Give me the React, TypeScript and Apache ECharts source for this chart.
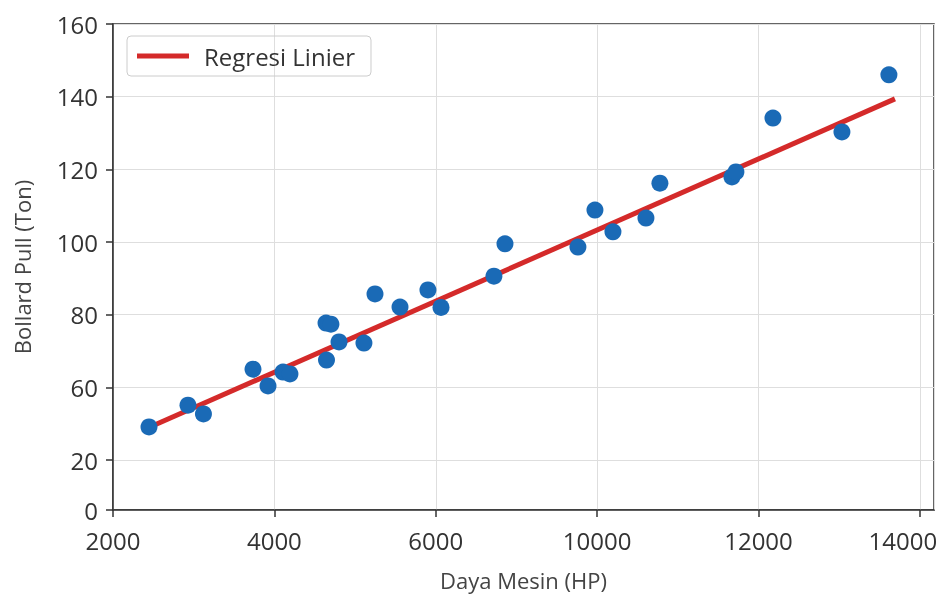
import React, { useEffect, useRef } from "react";
import * as echarts from "echarts";

// x values are in the axis' own linear coordinate (tick slots every 2000 from 2000);
// the printed tick labels of the reference are listed separately.
const xTickLabels = ["2000", "4000", "6000", "10000", "12000", "14000"];
const yTickValues = [26.25, 40, 60, 80, 100, 120, 140, 160];
const yTickLabels = ["0", "20", "60", "80", "100", "120", "140", "160"];

const dayaMesin = [
  2446, 2929, 3121, 3735, 3921, 4107, 4193, 4646, 4640, 4701, 4801, 5110, 5247,
  5557, 5903, 6065, 6721, 6858, 7762, 7973, 8196, 8605, 8778, 9671, 9720, 10179,
  11034, 11616,
];
const bollardPull = [
  49.1, 55.1, 52.7, 65.0, 60.4, 64.2, 63.7, 67.5, 77.7, 77.4, 72.5, 72.2, 85.7,
  82.1, 86.8, 82.0, 90.6, 99.5, 98.6, 108.8, 102.8, 106.6, 116.2, 117.9, 119.3,
  134.1, 130.3, 146.0,
];
const regX = [2458, 11691];
const regY = [49.1, 139.4];

const FONT = "Open Sans";

export default function App() {
  const ref = useRef<HTMLDivElement>(null);
  useEffect(() => {
    document.documentElement.style.overflow = "hidden";
    document.body.style.margin = "0";
    document.body.style.overflow = "hidden";
    const chart = echarts.init(ref.current!, null, {
      renderer: "svg",
      width: 943,
      height: 597,
    });
    chart.setOption({
      animation: false,
      textStyle: { fontFamily: FONT },
      grid: {
        left: 113,
        right: 9,
        top: 24,
        bottom: 87,
        containLabel: false,
        outerBoundsMode: "none",
        show: true,
        borderColor: "#333",
        borderWidth: 1.5,
        backgroundColor: "transparent",
      },
      legend: {
        left: 127,
        top: 36,
        data: ["Regresi Linier"],
        icon: "rect",
        itemWidth: 52,
        itemHeight: 5,
        padding: [8, 16, 8, 10],
        borderColor: "#ccc",
        borderWidth: 1,
        borderRadius: 4,
        textStyle: {
          fontFamily: FONT,
          fontSize: 24,
          color: "#333",
          padding: [0, 0, 0, 10],
        },
      },
      xAxis: {
        type: "value",
        min: 2000,
        max: 12175,
        interval: 2000,
        name: "Daya Mesin (HP)",
        nameLocation: "middle",
        nameGap: 59,
        nameTextStyle: { fontFamily: FONT, fontSize: 22, color: "#444" },
        axisLine: { lineStyle: { color: "#333", width: 1.5 } },
        axisTick: { show: true, length: 7, lineStyle: { color: "#333", width: 1.5 } },
        axisLabel: {
          fontFamily: FONT,
          fontSize: 24,
          color: "#333",
          margin: 18,
          formatter: (v: number) => {
            const i = Math.round((v - 2000) / 2000);
            const t = xTickLabels[i] ?? "";
            return i === xTickLabels.length - 1 ? `{last|${t}}` : t;
          },
          rich: {
            last: {
              fontFamily: FONT,
              fontSize: 24,
              color: "#333",
              padding: [0, 34, 0, 0],
            },
          },
        },
        splitLine: { show: true, lineStyle: { color: "#dedede", width: 1 } },
      },
      yAxis: {
        type: "value",
        min: 26.25,
        max: 160,
        name: "Bollard Pull (Ton)",
        nameLocation: "middle",
        nameGap: 80,
        nameTextStyle: { fontFamily: FONT, fontSize: 22, color: "#444" },
        axisLine: { show: true, lineStyle: { color: "#333", width: 1.5 } },
        axisTick: {
          show: true,
          length: 7,
          customValues: yTickValues,
          lineStyle: { color: "#333", width: 1.5 },
        },
        axisLabel: {
          fontFamily: FONT,
          fontSize: 24,
          color: "#333",
          margin: 15,
          customValues: yTickValues,
          formatter: (v: number) => {
            const i = yTickValues.findIndex((t) => Math.abs(t - v) < 0.01);
            return i >= 0 ? yTickLabels[i] : "";
          },
        },
        splitLine: { show: true, lineStyle: { color: "#dedede", width: 1 } },
      },
      series: [
        {
          name: "Regresi Linier",
          type: "line",
          data: regX.map((x, i) => [x, regY[i]]),
          symbol: "none",
          lineStyle: { color: "#d42a2a", width: 5 },
          itemStyle: { color: "#d42a2a" },
          z: 2,
        },
        {
          name: "Data",
          type: "scatter",
          data: dayaMesin.map((x, i) => [x, bollardPull[i]]),
          symbolSize: 17,
          itemStyle: { color: "#1a6ab6", opacity: 1 },
          z: 3,
        },
      ],
    });
    return () => chart.dispose();
  }, []);
  return (
    <div
      ref={ref}
      style={{ position: "fixed", left: 0, top: 0, width: 943, height: 597 }}
    />
  );
}
